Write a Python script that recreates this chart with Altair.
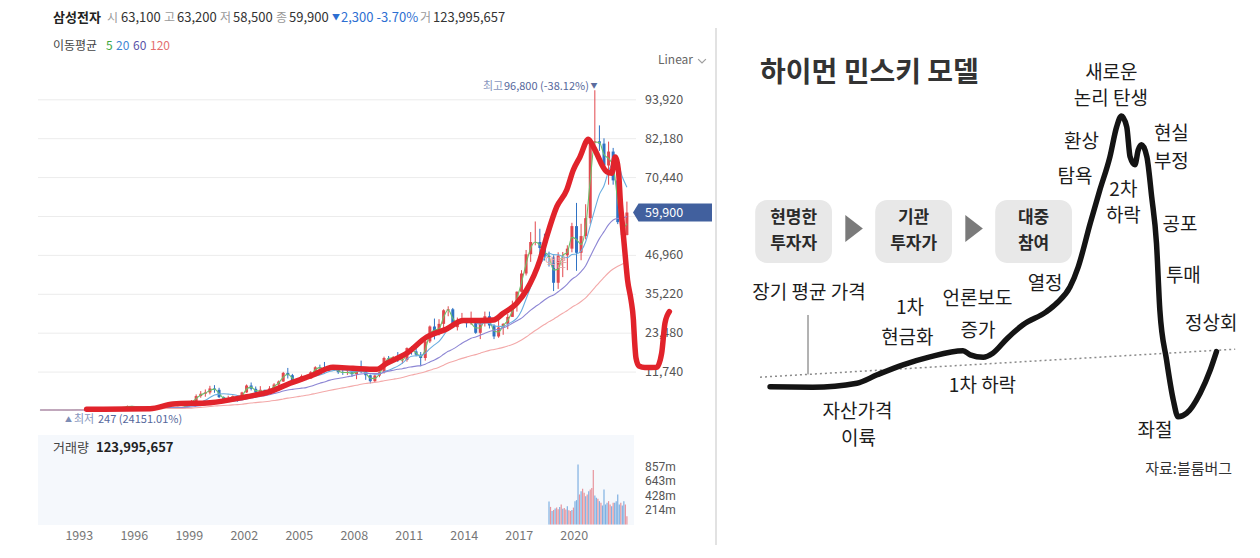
import altair as alt
import pandas as pd

KR = "Noto Sans CJK KR"

# ---------------- data: Samsung quarterly candles (adjusted KRW), 1990Q4 .. 2022Q4 ----------------
first_quarter = (1990, 4)
closes = [300,
          320, 300, 310, 290,
          280, 270, 330, 400,
          450, 480, 520, 560,
          650, 720, 900, 1000,
          950, 1150, 1500, 1300,
          1250, 1050, 900, 950,
          1000, 1350, 1100, 800,
          1200, 1000, 1100, 2200,
          3000, 4500, 5200, 5600,
          6800, 6400, 4200, 3600,
          3900, 4500, 3300, 5600,
          7700, 6700, 5600, 6400,
          5500, 6800, 8000, 8900,
          11500, 10800, 9000, 9000,
          10500, 9800, 11700, 13200,
          13000, 12200, 13000, 12500,
          11700, 11500, 11700, 11100,
          12400, 12200, 10800, 9000,
          10700, 11700, 16000, 15800,
          16300, 15300, 15400, 19000,
          18000, 17000, 16000, 21000,
          25500, 23300, 26300, 30400,
          30700, 25300, 27500, 27500,
          26500, 26500, 23600, 26500,
          28600, 25800, 22500, 25200,
          26300, 28400, 32000, 36000,
          41500, 47300, 51000, 51000,
          49200, 46800, 46400, 38700,
          46900, 47000, 49000, 55800,
          47750, 52800, 58200, 81000,
          81400, 80700, 74100, 78300,
          69600, 57000, 53100, 59900]
highs = [330,
         340, 340, 330, 320,
         310, 300, 350, 430,
         480, 520, 560, 620,
         700, 800, 980, 1100,
         1080, 1250, 1650, 1550,
         1400, 1300, 1100, 1050,
         1150, 1500, 1400, 1150,
         1300, 1250, 1250, 2400,
         3300, 5000, 6000, 6500,
         7600, 7800, 7000, 4400,
         4600, 4700, 4600, 5800,
         8000, 8600, 7400, 7500,
         6400, 7500, 8400, 9200,
         11800, 13000, 11200, 9800,
         11000, 10700, 12000, 13500,
         14000, 14800, 13600, 13500,
         12600, 12600, 12800, 12600,
         12700, 15200, 12300, 11000,
         11000, 12000, 16400, 16600,
         16600, 17800, 16800, 19200,
         19600, 19000, 17800, 21400,
         25800, 27900, 27700, 30700,
         31600, 31100, 28200, 29600,
         28000, 30000, 27400, 26600,
         30000, 30000, 26200, 27800,
         26500, 29300, 33300, 36100,
         42500, 48600, 54000, 57200,
         55000, 53500, 48100, 47000,
         47900, 48000, 50000, 56800,
         62800, 56500, 62400, 81300,
         96800, 86200, 82300, 81300,
         79400, 70700, 63000, 63200]
lows = [250,
        280, 270, 280, 260,
        250, 247, 260, 320,
        390, 430, 460, 500,
        540, 620, 700, 850,
        880, 920, 1100, 1200,
        1150, 950, 800, 850,
        900, 950, 1000, 620,
        750, 650, 800, 1050,
        2000, 2900, 4000, 4300,
        5000, 5500, 3900, 2700,
        3200, 3500, 2800, 3200,
        5500, 6200, 5300, 5300,
        5100, 5300, 6600, 7600,
        8800, 9800, 8400, 8500,
        8800, 9300, 9800, 11500,
        12400, 11600, 11800, 12200,
        11200, 10900, 10900, 10300,
        9600, 11400, 9400, 8300,
        8500, 10200, 11300, 14300,
        14900, 14800, 14300, 14900,
        17000, 16500, 13500, 15200,
        20500, 21600, 22800, 24900,
        28600, 25000, 24300, 26500,
        25200, 26000, 23300, 21700,
        25500, 24900, 21700, 22100,
        23000, 24700, 28400, 30000,
        35800, 40900, 45000, 50000,
        44000, 45400, 43600, 36200,
        36850, 40400, 42500, 47900,
        42300, 45500, 51800, 56500,
        80000, 78500, 72700, 68300,
        68300, 56400, 51800, 53000]

# moving averages (monthly 5/20/60/120 approximated in quarters)
ma_names = ["5", "20", "60", "120"]
ma_quarters = [2, 7, 20, 40]
ma_colors = ["#6cc06a", "#69ade0", "#8d86d4", "#f3a9a9"]

# monthly volume, Aug 2018 .. Nov 2022 (millions of shares)
vol_start = (2018, 8)
vol_millions = [340, 260, 200, 215, 235,
                250, 225, 260, 295, 232, 245, 222, 270, 212, 200, 215, 250,
                345, 360, 887, 444, 493, 527, 468, 419, 444, 493, 518, 540,
                804, 429, 394, 380, 345, 320, 281, 518, 296, 320, 345, 296,
                271, 320, 320, 345, 444, 296, 320, 281, 345, 296, 123]
vol_up = [0, 1, 0, 1, 0,
          1, 1, 0, 1, 0, 1, 1, 0, 1, 1, 0, 1,
          0, 0, 0, 1, 0, 1, 1, 0, 1, 0, 1, 1,
          1, 0, 0, 1, 0, 1, 0, 0, 0, 0, 1, 1,
          0, 1, 0, 0, 0, 0, 1, 0, 0, 1, 1]

grid_ticks = [11740, 23480, 35220, 46960, 58700, 70440, 82180, 93920]
price_ticks = [11740, 23480, 35220, 46960, 70440, 82180, 93920]
price_tick_labels = ["11,740", "23,480", "35,220", "46,960", "70,440", "82,180", "93,920"]
vol_ticks = [214e6, 428e6, 643e6, 857e6]
vol_tick_labels = ["214m", "428m", "643m", "857m"]
year_ticks = [1993, 1996, 1999, 2002, 2005, 2008, 2011, 2014, 2017, 2020]

# hand-drawn red trend line (year, price)
trend_t = [1993.40, 1996.86, 1998.11, 2000.13, 2002.13, 2003.40, 2004.50, 2005.75, 2006.84, 2007.93,
           2009.22, 2009.77, 2010.86, 2011.95, 2013.04, 2013.95, 2014.86, 2015.59, 2016.13, 2016.86,
           2017.40, 2018.13, 2018.50, 2019.05, 2019.59, 2019.95, 2020.32, 2020.77, 2021.04, 2021.77,
           2022.05, 2022.23, 2022.41, 2022.53, 2022.63, 2022.77, 2022.91, 2023.10, 2023.23, 2023.29,
           2023.37, 2023.53, 2023.86, 2024.50, 2024.77, 2024.95, 2025.19]
trend_p = [513, 694, 2113, 2505, 4316, 5825, 8360, 10865, 13189, 12887,
           12585, 14396, 17414, 22333, 24748, 27313, 27313, 27464, 29486, 32504,
           36518, 45572, 52603, 61657, 66698, 72734, 76748, 81999, 79766, 72221,
           71738, 76657, 72734, 62171, 56135, 47684, 39536, 33500, 27464, 21428,
           15995, 13581, 13128, 13189, 17414, 26468, 29969]

# Minsky model curve (time, price index 0-100)
minsky_x = [2.1, 11.0, 20.2, 24.4, 29.8, 35.4, 42.3, 43.8, 46.5, 48.5, 51.5, 54.8, 59.7, 61.8,
            64.6, 66.3, 68.8, 70.8, 72.9, 74.3, 75.3, 76.4, 77.1, 78.1, 78.8, 79.5, 80.6, 81.6,
            82.6, 83.3, 84.7, 86.1, 87.1, 88.9, 91.7, 93.8, 95.1]
minsky_y = [15.8, 15.7, 16.7, 18.8, 21.3, 23.3, 24.8, 23.8, 23.2, 24.2, 27.9, 31.3, 34.6, 36.7,
            40.8, 45.8, 56.7, 65.0, 73.3, 80.8, 83.5, 80.8, 73.3, 71.3, 75.0, 76.3, 73.3, 63.3,
            51.7, 35.0, 22.5, 12.5, 8.3, 9.2, 14.2, 20.0, 24.6]
avg_line_x = [0, 99]
avg_line_y = [18.2, 25.2]

minsky_labels = ["새로운", "논리 탄생", "환상", "탐욕", "현실", "부정", "2차", "하락", "공포", "투매",
                 "열정", "장기 평균 가격", "1차", "현금화", "언론보도", "증가", "1차 하락",
                 "자산가격", "이륙", "정상회", "좌절"]
minsky_lx = [73.2, 73.1, 67.0, 65.6, 85.7, 85.7, 75.7, 75.7, 87.5, 88.2,
             59.4, 10.2, 31.25, 30.7, 45.3, 45.4, 46.35, 20.3, 20.5, 94.0, 82.3]
minsky_ly = [94.25, 87.75, 77.1, 68.25, 79.0, 72.0, 65.0, 58.5, 56.25, 43.5,
             41.5, 39.25, 35.5, 28.1, 37.75, 29.75, 16.0, 9.6, 2.75, 31.5, 4.75]

stage_line1 = ["현명한", "기관", "대중"]
stage_line2 = ["투자자", "투자가", "참여"]
stage_x0 = [-1.0, 24.0, 49.0]
stage_x1 = [15.0, 40.0, 65.0]
stage_cx = [7.0, 32.0, 57.0]
arrow_x = [19.6, 44.6]

# ---------------- build tables ----------------
qt = []
y, q = first_quarter
for _ in closes:
    qt.append(y + (q - 1) / 4 + 0.125)
    q += 1
    if q > 4:
        q, y = 1, y + 1
cdf = pd.DataFrame({"t": qt, "close": closes, "high": highs, "low": lows})

vt = []
y, m = vol_start
for _ in vol_millions:
    vt.append(y + (m - 0.5) / 12)
    m += 1
    if m > 12:
        m, y = 1, y + 1
vdf = pd.DataFrame({"t": vt, "vol": [v * 1e6 for v in vol_millions],
                    "dir": ["up" if u else "down" for u in vol_up], "zero": 0})

# ---------------- scales (page pixel layout) ----------------
OFF = 8
def img_x(t):
    return 79.3 + (t - 1993) * 18.33

TX = alt.Scale(domain=[1990.75, 2023.1], range=[img_x(1990.75) - OFF, img_x(2023.1) - OFF], nice=False, zero=False)
PY = alt.Scale(domain=[0, 100000], range=[411 - OFF, 411 - 100000 / 301.8 - OFF], nice=False, zero=False)
VY = alt.Scale(domain=[0, 1e9], range=[524.5 - OFF, 524.5 - 1e9 * 14.5 / 214.3e6 - OFF], nice=False, zero=False)
MX = alt.Scale(domain=[0, 100], range=[760 - OFF, 1240 - OFF], nice=False, zero=False)
MY = alt.Scale(domain=[0, 100], range=[450 - OFF, 50 - OFF], nice=False, zero=False)

UPDOWN = alt.Scale(domain=["up", "down"], range=["#e2474d", "#2f72c4"])

ONE = pd.DataFrame({"k": [0]})

def label(text, px, py, size=12, color="#333", weight="normal", align="left", baseline="middle", font=KR):
    return alt.Chart(ONE).mark_text(text=text, fontSize=size, color=color, fontWeight=weight,
                                    align=align, baseline=baseline, font=font).encode(
        x=alt.value(px - OFF), y=alt.value(py - OFF))

def box(x0, x1, y0, y1, color, **kw):
    return alt.Chart(ONE).mark_rect(color=color, **kw).encode(
        x=alt.value(x0 - OFF), x2=alt.value(x1 - OFF), y=alt.value(y0 - OFF), y2=alt.value(y1 - OFF))

layers = []

# ---------------- left: price panel ----------------
layers.append(alt.Chart(pd.DataFrame({"price": grid_ticks})).mark_rule(color="#ececec", strokeWidth=1).encode(
    y=alt.Y("price:Q", scale=PY, axis=None), x=alt.value(38 - OFF), x2=alt.value(636 - OFF)))

candles = alt.Chart(cdf).transform_window(
    prev="lag(close)", sort=[alt.SortField("t", order="ascending")]
).transform_calculate(
    open="datum.prev == null ? datum.close : datum.prev"
).transform_calculate(
    dir="datum.close >= datum.open ? 'up' : 'down'"
)
layers.append(candles.mark_rule(strokeWidth=1).encode(
    x=alt.X("t:Q", scale=TX, axis=None),
    y=alt.Y("low:Q", scale=PY, axis=None), y2="high:Q",
    color=alt.Color("dir:N", scale=UPDOWN, legend=None)))
layers.append(candles.mark_rule(strokeWidth=3).encode(
    x=alt.X("t:Q", scale=TX, axis=None),
    y=alt.Y("open:Q", scale=PY, axis=None), y2="close:Q",
    color=alt.Color("dir:N", scale=UPDOWN, legend=None)))

for name, n, col in zip(ma_names, ma_quarters, ma_colors):
    layers.append(alt.Chart(cdf).transform_window(
        ma="mean(close)", frame=[-(n - 1), 0], sort=[alt.SortField("t", order="ascending")]
    ).mark_line(color=col, strokeWidth=1.1, interpolate="monotone").encode(
        x=alt.X("t:Q", scale=TX, axis=None), y=alt.Y("ma:Q", scale=PY, axis=None)))

# price axis labels
layers.append(alt.Chart(pd.DataFrame({"price": price_ticks, "lab": price_tick_labels})).mark_text(
    align="left", baseline="middle", fontSize=12.5, color="#555", font=KR).encode(
    y=alt.Y("price:Q", scale=PY, axis=None), x=alt.value(645 - OFF), text="lab:N"))

# current price marker
layers.append(alt.Chart(pd.DataFrame({"price": [59900]})).mark_point(
    shape="M -1 0 L -0.86 -0.23 L 1 -0.23 L 1 0.23 L -0.86 0.23 Z", size=79 * 79,
    filled=True, color="#41609e", opacity=1).encode(
    y=alt.Y("price:Q", scale=PY, axis=None), x=alt.value(672.5 - OFF)))
layers.append(alt.Chart(pd.DataFrame({"price": [59900], "lab": ["59,900"]})).mark_text(
    align="left", baseline="middle", fontSize=12.5, color="white", font=KR).encode(
    y=alt.Y("price:Q", scale=PY, axis=None), x=alt.value(645 - OFF), text="lab:N"))

# split annotation
layers.append(label("액분", 545, 263, size=12, color="#e3a3a3"))

# red hand-drawn trend
layers.append(alt.Chart(pd.DataFrame({"t": trend_t, "p": trend_p})).mark_line(
    color="#e1232b", strokeWidth=5.5, strokeCap="round", strokeJoin="round", interpolate="monotone").encode(
    x=alt.X("t:Q", scale=TX, axis=None), y=alt.Y("p:Q", scale=PY, axis=None), order="t:Q"))

# high / low annotations
layers.append(label("최고", 483, 87, size=11, color="#8796bd"))
layers.append(label("96,800 (-38.12%)", 504, 87, size=11, color="#55679b"))
layers.append(label("▼", 594, 86, size=7, color="#5b6c9e", align="center"))
layers.append(label("▲", 68.5, 420, size=7, color="#7d8db5", align="center"))
layers.append(label("최저", 74, 420, size=11, color="#8796bd"))
layers.append(label("247 (24151.01%)", 98, 420, size=11, color="#55679b"))

# header
layers.append(label("삼성전자", 53, 18, size=13, color="#222", weight="bold"))
for lab, px in [("시", 107), ("고", 164), ("저", 220), ("종", 276), ("거", 420)]:
    layers.append(label(lab, px, 18, size=12, color="#999"))
for val, px in [("63,100", 121), ("63,200", 177), ("58,500", 233), ("59,900", 289), ("123,995,657", 433)]:
    layers.append(label(val, px, 18, size=13, color="#333"))
layers.append(label("▼", 336, 18, size=8, color="#2d6fd2", align="center"))
layers.append(label("2,300 -3.70%", 341, 18, size=13, color="#2d6fd2"))
layers.append(label("이동평균", 53, 46, size=12, color="#444"))
for name, px, col in zip(ma_names, [106, 116, 133, 150], ["#3ea83f", "#3f86d4", "#5a52a8", "#e46f6f"]):
    layers.append(label(name, px, 46, size=12, color=col))
layers.append(label("Linear", 658, 60, size=12, color="#666"))
layers.append(alt.Chart(ONE).mark_point(shape="M -1 -0.5 L 0 0.5 L 1 -0.5", size=60, filled=False,
                                         color="#777", strokeWidth=1.2).encode(
    x=alt.value(702 - OFF), y=alt.value(61 - OFF)))

# ---------------- left: volume panel ----------------
layers.append(box(38, 634, 435, 525, "#f5f8fc"))
layers.append(alt.Chart(vdf).mark_rule(strokeWidth=1.2, opacity=0.85).encode(
    x=alt.X("t:Q", scale=TX, axis=None), y=alt.Y("vol:Q", scale=VY, axis=None), y2="zero:Q",
    color=alt.Color("dir:N", scale=alt.Scale(domain=["up", "down"], range=["#e5828c", "#6aa3dd"]), legend=None)))
layers.append(alt.Chart(pd.DataFrame({"v": vol_ticks, "lab": vol_tick_labels})).mark_text(
    align="left", baseline="middle", fontSize=12, color="#555", font="Roboto").encode(
    y=alt.Y("v:Q", scale=VY, axis=None), x=alt.value(645 - OFF), text="lab:N"))
layers.append(label("거래량", 53, 448, size=13, color="#444"))
layers.append(label("123,995,657", 96, 448, size=13, color="#222", weight="bold"))
layers.append(alt.Chart(pd.DataFrame({"yr": year_ticks})).mark_text(
    align="center", baseline="middle", fontSize=12.5, color="#777", font=KR).encode(
    x=alt.X("yr:Q", scale=TX, axis=None), y=alt.value(536 - OFF), text="yr:N"))

# separator
layers.append(alt.Chart(ONE).mark_rule(color="#e2e2e2", strokeWidth=2).encode(
    x=alt.value(716 - OFF), y=alt.value(28 - OFF), y2=alt.value(545 - OFF)))

# ---------------- right: Minsky model ----------------
layers.append(alt.Chart(pd.DataFrame({"x": avg_line_x, "y": avg_line_y})).mark_line(
    color="#8a8a8a", strokeWidth=1.5, strokeDash=[2, 3]).encode(
    x=alt.X("x:Q", scale=MX, axis=None), y=alt.Y("y:Q", scale=MY, axis=None)))
layers.append(alt.Chart(pd.DataFrame({"x": [10.0], "y0": [18.9], "y1": [33.75]})).mark_rule(
    color="#666", strokeWidth=1).encode(
    x=alt.X("x:Q", scale=MX, axis=None), y=alt.Y("y0:Q", scale=MY, axis=None), y2="y1:Q"))
layers.append(alt.Chart(pd.DataFrame({"x0": stage_x0, "x1": stage_x1, "y0": [46.75] * 3, "y1": [62.5] * 3})).mark_rect(
    color="#e8e8e8", cornerRadius=12).encode(
    x=alt.X("x0:Q", scale=MX, axis=None), x2="x1:Q", y=alt.Y("y0:Q", scale=MY, axis=None), y2="y1:Q"))
layers.append(alt.Chart(pd.DataFrame({"x": stage_cx * 2, "y": [57.9] * 3 + [51.5] * 3,
                                      "lab": stage_line1 + stage_line2})).mark_text(
    align="center", baseline="middle", fontSize=17, fontWeight="bold", color="#2a2a2a", font=KR).encode(
    x=alt.X("x:Q", scale=MX, axis=None), y=alt.Y("y:Q", scale=MY, axis=None), text="lab:N"))
layers.append(alt.Chart(pd.DataFrame({"x": arrow_x, "y": [55.4, 55.4]})).mark_point(
    shape="M -0.65 -1 L 0.65 0 L -0.65 1 Z", size=27 * 27, filled=True, color="#7a7a7a", opacity=1).encode(
    x=alt.X("x:Q", scale=MX, axis=None), y=alt.Y("y:Q", scale=MY, axis=None)))
layers.append(alt.Chart(pd.DataFrame({"x": minsky_x, "y": minsky_y})).mark_line(
    color="#141414", strokeWidth=5.5, strokeCap="round", strokeJoin="round", interpolate="monotone").encode(
    x=alt.X("x:Q", scale=MX, axis=None), y=alt.Y("y:Q", scale=MY, axis=None), order="x:Q"))
layers.append(alt.Chart(pd.DataFrame({"x": minsky_lx, "y": minsky_ly, "lab": minsky_labels})).mark_text(
    align="center", baseline="middle", fontSize=19, color="#1c1c1c", font=KR).encode(
    x=alt.X("x:Q", scale=MX, axis=None), y=alt.Y("y:Q", scale=MY, axis=None), text="lab:N"))
layers.append(alt.Chart(pd.DataFrame({"x": [89.3], "y": [-4.75], "lab": ["자료:블룸버그"]})).mark_text(
    align="center", baseline="middle", fontSize=15, color="#333", font=KR).encode(
    x=alt.X("x:Q", scale=MX, axis=None), y=alt.Y("y:Q", scale=MY, axis=None), text="lab:N"))
layers.append(alt.Chart(pd.DataFrame({"x": [0.0], "y": [93.9], "lab": ["하이먼 민스키 모델"]})).mark_text(
    align="left", baseline="middle", fontSize=28, fontWeight="bold", color="#333", font=KR).encode(
    x=alt.X("x:Q", scale=MX, axis=None), y=alt.Y("y:Q", scale=MY, axis=None), text="lab:N"))

chart = alt.layer(*layers).resolve_scale(
    x="independent", y="independent", color="independent"
).properties(
    width=1244, height=542, autosize=alt.AutoSizeParams(type="none"), padding=0, background="white"
).configure_view(stroke=None)

chart.save("out.html", embed_options={"renderer": "svg", "actions": False})
